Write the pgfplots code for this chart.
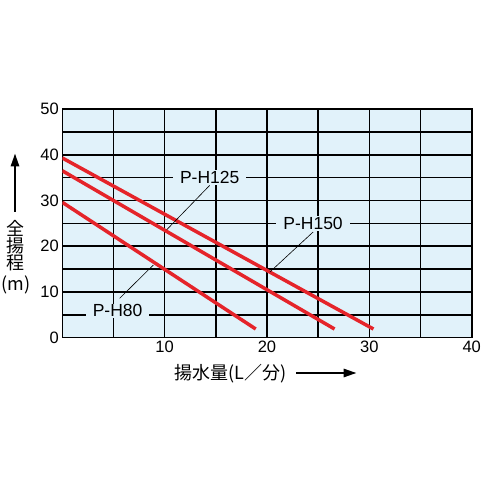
\documentclass[border=0pt]{standalone}
\usepackage{fontspec}
\setmainfont{Liberation Sans}
\newfontfamily\cjk{Noto Sans CJK JP}
\usepackage{pgfplots}
\pgfplotsset{compat=1.18}
\usetikzlibrary{arrows.meta}
\definecolor{bgblue}{RGB}{225,242,250}
\definecolor{curvered}{RGB}{229,36,42}
\begin{document}
\begin{tikzpicture}
\path[use as bounding box] (0,0) rectangle (483pt,483pt);
\begin{axis}[
  scale only axis,
  width=409.4pt, height=228.7pt,
  at={(62.3pt,145.3pt)}, anchor=south west,
  xmin=0, xmax=40, ymin=0, ymax=50,
  xtick={5,10,...,40},
  xticklabels={,10,,20,,30,,40},
  ytick={0,10,...,50},
  minor ytick={5,15,...,45},
  grid=both,
  major grid style={black, line width=1.6pt},
  minor grid style={black, line width=1.6pt},
  axis line style={black, line width=1.6pt},
  major tick length=0pt, minor tick length=0pt,
  axis background/.style={fill=bgblue},
  tick label style={font=\fontsize{16.5}{18}\selectfont},
  /pgf/number format/assume math mode=true,
  axis on top=false,
]
\addplot[curvered, line width=3.5pt] coordinates {(0,39.3) (30.4,1.9)};
\addplot[curvered, line width=3.5pt] coordinates {(0,36.5) (26.6,1.9)};
\addplot[curvered, line width=3.5pt] coordinates {(0,29.6) (18.9,1.9)};
\node[fill=bgblue, inner xsep=7pt, inner ysep=1pt, font=\fontsize{17.5}{19}\selectfont] at (axis cs:14.4,35) {P-H125};
\node[fill=bgblue, inner xsep=7pt, inner ysep=1pt, font=\fontsize{17.5}{19}\selectfont] at (axis cs:24.5,25) {P-H150};
\node[fill=bgblue, inner xsep=7pt, inner ysep=1pt, font=\fontsize{17.5}{19}\selectfont] at (axis cs:5.4,5.9) {P-H80};
\draw[black, line width=0.6pt] (axis cs:14.4,33.3) -- (axis cs:10.2,23.6);
\draw[black, line width=0.6pt] (axis cs:24.5,23.1) -- (axis cs:20.3,14.4);
\draw[black, line width=0.6pt] (axis cs:5.6,8.6) -- (axis cs:8.9,15.9);
\end{axis}
% y-axis label with arrow
\draw[line width=2.5pt, -{Triangle[length=13pt,width=8pt]}] (15pt,271.3pt) -- (15pt,329.7pt);
\node[font=\cjk\fontsize{18}{18}\selectfont] at (15pt,255pt) {全};
\node[font=\cjk\fontsize{18}{18}\selectfont] at (15pt,237pt) {揚};
\node[font=\cjk\fontsize{18}{18}\selectfont] at (15pt,220pt) {程};
\node[font=\cjk\fontsize{18}{18}\selectfont] at (16pt,198pt) {(m)};
% x-axis label with arrow
\node[font=\cjk\fontsize{18}{18}\selectfont] at (230.8pt,109.7pt) {揚水量(L／分)};
\draw[line width=2.5pt, -{Triangle[length=13pt,width=8pt]}] (296pt,110pt) -- (356.7pt,110pt);
\end{tikzpicture}
\end{document}
